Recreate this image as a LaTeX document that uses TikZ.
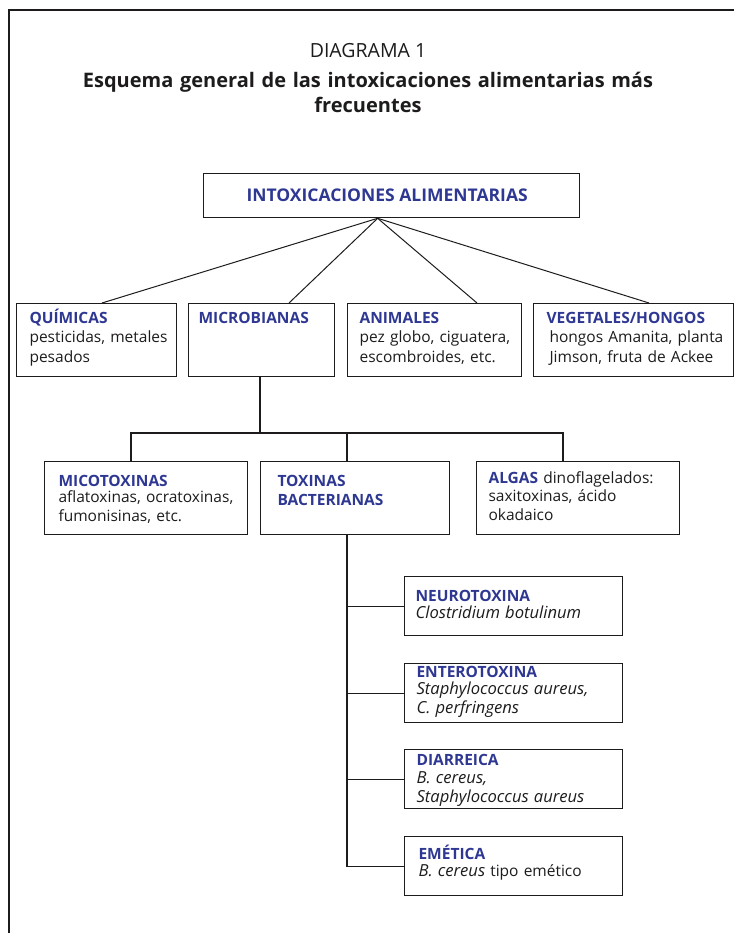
\documentclass[tikz,border=0pt]{standalone}
\usepackage{fontspec}
\setmainfont{Open Sans}
\usetikzlibrary{positioning}
\definecolor{tblue}{RGB}{46,56,146}
\definecolor{ink}{RGB}{30,27,28}
\newcommand{\hdr}[1]{\textbf{\color{tblue}#1}}
\newcommand{\spc}[1]{{\fontsize{16.6}{19.5}\selectfont\itshape #1}}

\begin{document}
\begin{tikzpicture}[x=1pt, y=-1pt, line width=1.1pt, draw=ink,
      box/.style 2 args={draw=ink, line width=1.3pt, inner sep=0pt, anchor=north west,
                 minimum width=#1, minimum height=#2},
      txt/.style={anchor=base west, inner sep=0pt, align=left, text width=230pt,
                 text=ink, font=\fontsize{15.5}{19.5}\selectfont}]

    \useasboundingbox (0,0) rectangle (734,933);
    % outer frame, open to the right and bottom
    \draw[line width=1.5pt] (734,10) -- (9,10) -- (9,933);

    % heading
    \node[anchor=base, inner sep=0pt, text=ink, font=\fontsize{19.5}{23}\selectfont]
        (diag) at (368,58) {DIAGRAMA 1};
    \node[anchor=base, inner sep=0pt, text=ink, text width=700pt, align=center,
          font=\bfseries\fontsize{20}{25}\selectfont]
        (title) at (368,88) {Esquema general de las intoxicaciones alimentarias más\\ frecuentes};

    % root
    \node[box={376pt}{44pt}, font=\bfseries\fontsize{17.5}{20}\selectfont, text=tblue]
        (root) at (203,173) {\hspace*{-9pt}INTOXICACIONES ALIMENTARIAS};

    % first level
    \node[box={160pt}{73pt}] (qui) at (16,303)  {};
    \node[box={146pt}{73pt}] (mic) at (188,303) {};
    \node[box={174pt}{73pt}] (ani) at (347,303) {};
    \node[box={200pt}{73pt}] (veg) at (533,303) {};

    \node[txt] (qui-t) at (29,323)  {\hdr{QUÍMICAS}\\ pesticidas, metales\\ pesados};
    \node[txt] (mic-t) at (198,323) {\hdr{MICROBIANAS}};
    \node[txt] (ani-t) at (359,323) {\hdr{ANIMALES}\\ pez globo, ciguatera,\\ escombroides, etc.};
    \node[txt] (veg-t) at (546,323) {\hdr{VEGETALES/HONGOS}\\ \hspace*{3pt}hongos Amanita, planta\\
                                     \hspace*{3pt}Jimson, fruta de Ackee};

    \coordinate (apex) at ([xshift=-14pt]root.south);
    \foreach \n/\dx in {qui/86, mic/101, ani/130, veg/116}
        \draw[line width=1pt] (apex) -- ([xshift=\dx pt]\n.north west);

    % second level (microbianas)
    \node[box={203pt}{73pt}] (mico) at (44,461)  {};
    \node[box={189pt}{73pt}] (tox)  at (260,461) {};
    \node[box={203pt}{73pt}] (alg)  at (476,461) {};

    \node[txt] (mico-t) at (58,486)  {\hdr{MICOTOXINAS}\\[-3.5pt] aflatoxinas, ocratoxinas,\\ fumonisinas, etc.};
    \node[txt] (tox-t)  at (277,486) {\hdr{TOXINAS}\\ \hdr{BACTERIANAS}};
    \node[txt] (alg-t)  at (488,483) {\hdr{ALGAS} dinoflagelados:\\[-1.5pt] saxitoxinas, ácido\\ okadaico};

    \coordinate (bus) at (260,433);
    \draw (bus) -- (bus |- mic.south);
    \draw ([xshift=87pt]mico.north west) |- (bus) -| ([xshift=87pt]alg.north west);
    \draw ([xshift=87pt]tox.north west) -- ([xshift=87pt]tox.north west |- bus);

    % bacterial toxins
    \foreach \n/\y in {neu/576, ent/663, dia/749, eme/836}
        \node[box={218pt}{59pt}] (\n) at (404,\y) {};

    \node[txt] (neu-t) at (415,601) {\hdr{NEUROTOXINA}\\[-2.5pt] \spc{Clostridium botulinum}};
    \node[txt] (ent-t) at (416,677) {\hdr{ENTEROTOXINA}\\[-2.5pt] \spc{Staphylococcus aureus,}\\
                                     \spc{C. perfringens}};
    \node[txt] (dia-t) at (416,765) {\hdr{DIARREICA}\\[-1.5pt] \spc{B. cereus,}\\
                                     \spc{Staphylococcus aureus}};
    \node[txt] (eme-t) at (418,859) {\hdr{EMÉTICA}\\[-2.5pt] \spc{B. cereus} tipo emético};

    \foreach \n in {neu, ent, dia, eme}
        \draw ([xshift=87pt]tox.south west) |- (\n.west);

\end{tikzpicture}
\end{document}
